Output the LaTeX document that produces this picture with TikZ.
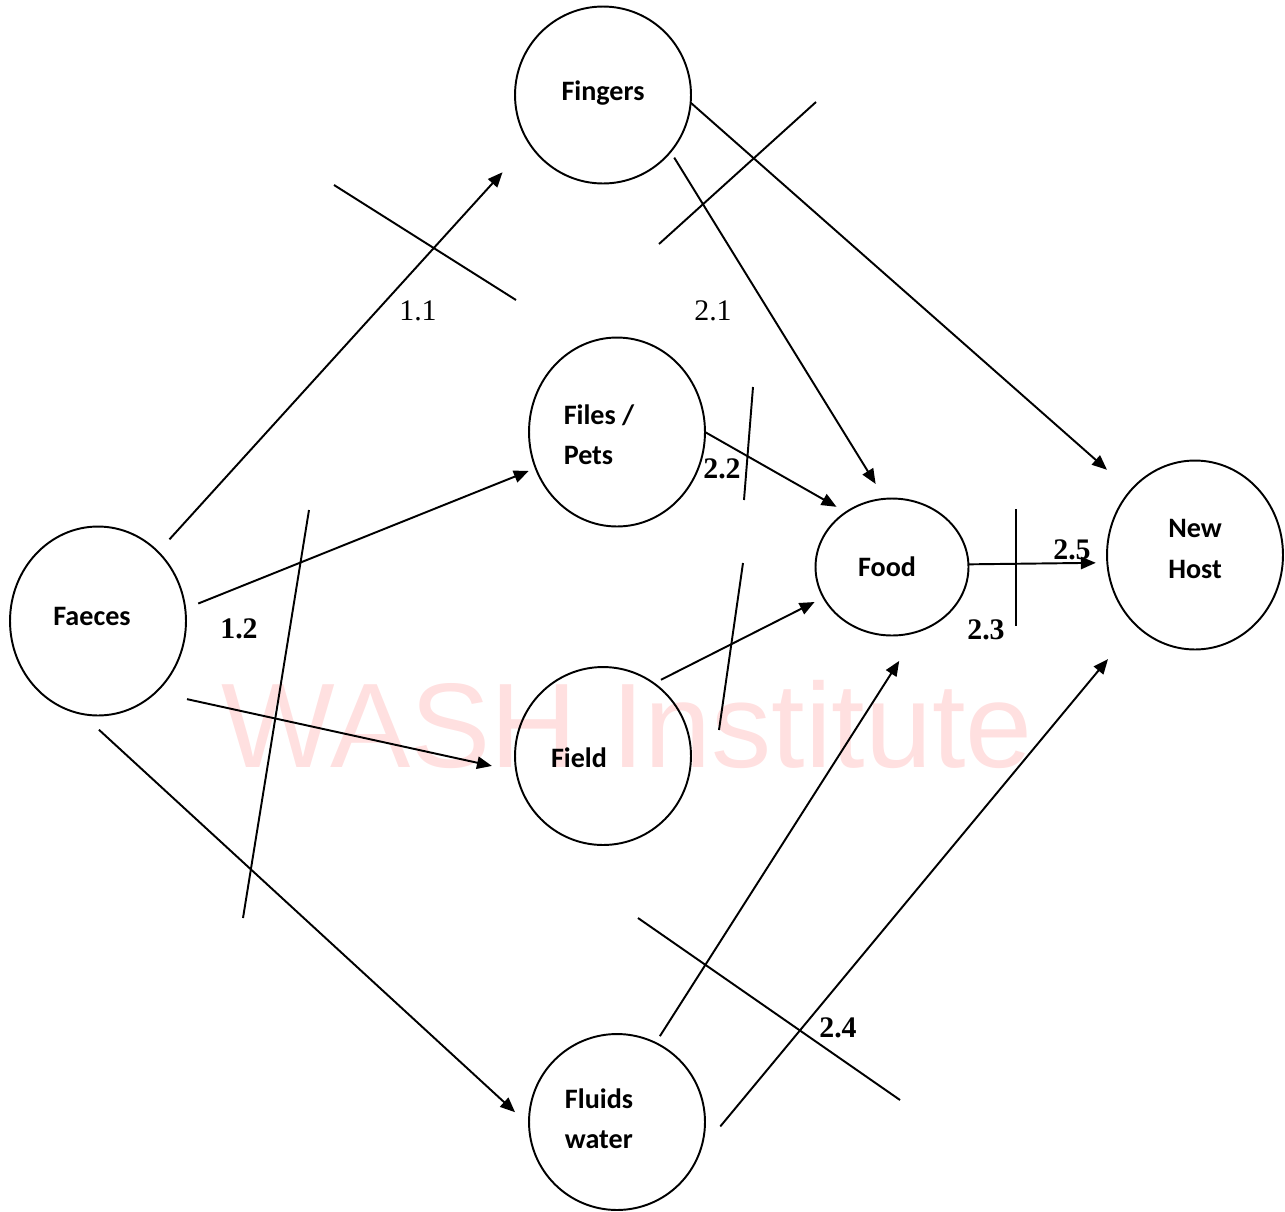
\documentclass[tikz,border=0pt]{standalone}
\usepackage{fontspec}
\setmainfont{Liberation Serif}
\newfontfamily\calibfont{Carlito}
\newfontfamily\arialfont{Liberation Sans}
\usetikzlibrary{shapes.geometric, arrows.meta, positioning}

\begin{document}
\begin{tikzpicture}[
		% Estilos de nodos y conexiones
		stage/.style = {draw, ellipse, line width=1.1pt, inner sep=0pt, outer sep=0pt},
		txt/.style = {inner sep=0pt, align=left, font=\calibfont\bfseries\fontsize{16}{23}\selectfont},
		route/.style = {draw, line width=1.1pt, -{Triangle[length=8.5pt, width=7pt]}},
		cut/.style = {draw, line width=1.1pt},
		num/.style = {inner sep=0pt, font=\fontsize{17}{20}\selectfont},
		numb/.style = {inner sep=0pt, font=\fontsize{17}{20}\selectfont\bfseries},
		x=0.02cm, y=-0.02cm
		]
		\useasboundingbox (0,0) rectangle (1285,1211);
		
		% --- MARCA DE AGUA ---
		\node [anchor=base, inner sep=0pt, text=red!12, font=\arialfont\fontsize{68.5}{70}\selectfont] (wm) at (627,767) {WASH Institute};
		
		% --- NODOS ---
		\node [stage, minimum width=3.52cm, minimum height=3.78cm,
			label={[txt, xshift=-0.12cm, yshift=0.1cm]center:Faeces}] (faeces) at (98,621) {};
		\node [stage, minimum width=3.52cm, minimum height=3.54cm,
			label={[txt, yshift=0.04cm]center:Fingers}] (fingers) at (603,95) {};
		\node [stage, minimum width=3.52cm, minimum height=3.78cm,
			label={[txt, xshift=-0.36cm, yshift=-0.06cm]center:Files /\\Pets}] (files) at (617,432) {};
		\node [stage, minimum width=3.06cm, minimum height=2.74cm,
			label={[txt, xshift=-0.1cm]center:Food}] (food) at (892,567) {};
		\node [stage, minimum width=3.52cm, minimum height=3.56cm,
			label={[txt, xshift=-0.48cm, yshift=-0.03cm]center:Field}] (field) at (603,756) {};
		\node [stage, minimum width=3.52cm, minimum height=3.52cm,
			label={[txt, xshift=-0.36cm, yshift=0.06cm]center:Fluids\\water}] (fluids) at (617,1122) {};
		\node [stage, minimum width=3.52cm, minimum height=3.78cm,
			label={[txt, yshift=0.12cm]center:New\\Host}] (host) at (1195,555) {};
		
		% --- RUTAS DESDE LAS HECES ---
		\draw [route, shorten <=0.34cm, shorten >=0.79cm] (faeces.49.4) -- (fingers.213.6);
		\draw [route, shorten <=0.28cm, shorten >=0.15cm] (faeces.8.4) -- (files.204.1);
		\draw [route, shorten <=0.64cm, shorten >=0.5cm] (faeces.-51.85) -- (field.190.7);
		\draw [route, shorten <=0.47cm, shorten >=0.38cm] (faeces.260.7) -- (fluids.182.6);
		
		% --- RUTAS HACIA EL NUEVO HUESPED ---
		\draw [route, shorten >=0.63cm] (fingers.-5.8) -- (host.135.1);
		\draw [route, shorten <=0.14cm, shorten >=0.35cm] (fingers.-40.3) -- (food.96.5);
		\draw [route, shorten >=0.22cm] (files.0) -- (food.130.5);
		\draw [route, shorten <=0.16cm, shorten >=0.2cm] (field.55.9) -- (food.204.9);
		\draw [route, shorten >=0.23cm] (food.2.2) -- (host.185.9);
		\draw [route, shorten <=0.16cm, shorten >=0.7cm] (fluids.64) -- (food.-68.2);
		\draw [route, shorten <=0.63cm, shorten >=0.88cm] (fluids.-19.3) -- (host.230);
		
		% --- BARRERAS ---
		\draw [cut] (334,185) -- (516,300);
		\draw [cut] (659,244) -- (816,102);
		\draw [cut] (309,510) -- (243,918);
		\draw [cut] (753,387) -- (744,500);
		\draw [cut] (743,563) -- (719,730);
		\draw [cut] (1016,509) -- (1016,626);
		\draw [cut] (638,918) -- (900,1100);
		
		% --- ETIQUETAS ---
		\node [num] (l11) at (418,311) {1.1};
		\node [num] (l21) at (713,311) {2.1};
		\node [numb] (l22) at (722,469) {2.2};
		\node [numb] (l12) at (239,629) {1.2};
		\node [numb] (l25) at (1072,550) {2.5};
		\node [numb] (l23) at (986,630) {2.3};
		\node [numb] (l24) at (838,1028) {2.4};
		
	\end{tikzpicture}
\end{document}
